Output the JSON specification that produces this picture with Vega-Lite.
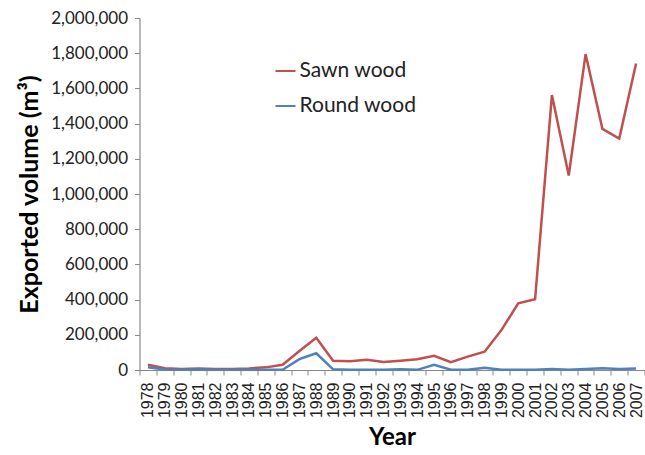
{
  "$schema": "https://vega.github.io/schema/vega-lite/v6.json",
  "width": 505,
  "height": 352,
  "autosize": "none",
  "padding": {"left": 139.5, "top": 18, "right": 0.5, "bottom": 85},
  "background": "white",
  "config": {"view": {"stroke": null}, "font": "Lato"},
  "data": {"values": [
    {"year": "1978", "type": "Sawn wood", "v": 30000},
    {"year": "1979", "type": "Sawn wood", "v": 10000},
    {"year": "1980", "type": "Sawn wood", "v": 6000},
    {"year": "1981", "type": "Sawn wood", "v": 9000},
    {"year": "1982", "type": "Sawn wood", "v": 5000},
    {"year": "1983", "type": "Sawn wood", "v": 6000},
    {"year": "1984", "type": "Sawn wood", "v": 9000},
    {"year": "1985", "type": "Sawn wood", "v": 15000},
    {"year": "1986", "type": "Sawn wood", "v": 30000},
    {"year": "1987", "type": "Sawn wood", "v": 108000},
    {"year": "1988", "type": "Sawn wood", "v": 183000},
    {"year": "1989", "type": "Sawn wood", "v": 52000},
    {"year": "1990", "type": "Sawn wood", "v": 50000},
    {"year": "1991", "type": "Sawn wood", "v": 58000},
    {"year": "1992", "type": "Sawn wood", "v": 45000},
    {"year": "1993", "type": "Sawn wood", "v": 53000},
    {"year": "1994", "type": "Sawn wood", "v": 61000},
    {"year": "1995", "type": "Sawn wood", "v": 81000},
    {"year": "1996", "type": "Sawn wood", "v": 44000},
    {"year": "1997", "type": "Sawn wood", "v": 76000},
    {"year": "1998", "type": "Sawn wood", "v": 104000},
    {"year": "1999", "type": "Sawn wood", "v": 227000},
    {"year": "2000", "type": "Sawn wood", "v": 379000},
    {"year": "2001", "type": "Sawn wood", "v": 402000},
    {"year": "2002", "type": "Sawn wood", "v": 1562000},
    {"year": "2003", "type": "Sawn wood", "v": 1105000},
    {"year": "2004", "type": "Sawn wood", "v": 1795000},
    {"year": "2005", "type": "Sawn wood", "v": 1370000},
    {"year": "2006", "type": "Sawn wood", "v": 1315000},
    {"year": "2007", "type": "Sawn wood", "v": 1742000},
    {"year": "1978", "type": "Round wood", "v": 15000},
    {"year": "1979", "type": "Round wood", "v": 3000},
    {"year": "1980", "type": "Round wood", "v": 1000},
    {"year": "1981", "type": "Round wood", "v": 3000},
    {"year": "1982", "type": "Round wood", "v": 2000},
    {"year": "1983", "type": "Round wood", "v": 1000},
    {"year": "1984", "type": "Round wood", "v": 2000},
    {"year": "1985", "type": "Round wood", "v": 2000},
    {"year": "1986", "type": "Round wood", "v": 1000},
    {"year": "1987", "type": "Round wood", "v": 62000},
    {"year": "1988", "type": "Round wood", "v": 95000},
    {"year": "1989", "type": "Round wood", "v": 4000},
    {"year": "1990", "type": "Round wood", "v": 1000},
    {"year": "1991", "type": "Round wood", "v": 1000},
    {"year": "1992", "type": "Round wood", "v": 1000},
    {"year": "1993", "type": "Round wood", "v": 4000},
    {"year": "1994", "type": "Round wood", "v": 1000},
    {"year": "1995", "type": "Round wood", "v": 30000},
    {"year": "1996", "type": "Round wood", "v": 2000},
    {"year": "1997", "type": "Round wood", "v": 2000},
    {"year": "1998", "type": "Round wood", "v": 13000},
    {"year": "1999", "type": "Round wood", "v": 2000},
    {"year": "2000", "type": "Round wood", "v": 2000},
    {"year": "2001", "type": "Round wood", "v": 2000},
    {"year": "2002", "type": "Round wood", "v": 5000},
    {"year": "2003", "type": "Round wood", "v": 2000},
    {"year": "2004", "type": "Round wood", "v": 6000},
    {"year": "2005", "type": "Round wood", "v": 10000},
    {"year": "2006", "type": "Round wood", "v": 6000},
    {"year": "2007", "type": "Round wood", "v": 9000}
  ]},
  "mark": {"type": "line", "strokeWidth": 2.5},
  "encoding": {
    "x": {
      "field": "year", "type": "ordinal",
      "scale": {"type": "band", "paddingInner": 0, "paddingOuter": 0},
      "bandPosition": 0.5,
      "axis": {
        "title": "Year", "titleFontSize": 24, "titleFontWeight": "bold", "titleColor": "#000",
        "titlePadding": 8,
        "labelAngle": -90, "labelFont": "Liberation Sans", "labelFontSize": 16, "labelColor": "#222", "labelPadding": 7,
        "labelAlign": "right", "labelBaseline": "middle",
        "tickBand": "extent", "tickSize": 5, "tickColor": "#888", "domainColor": "#888", "domainWidth": 1.2
      }
    },
    "y": {
      "field": "v", "type": "quantitative",
      "scale": {"domain": [0, 2000000], "nice": false},
      "axis": {
        "title": "Exported volume (m³)", "titleFontSize": 25, "titleFontWeight": "bold", "titleColor": "#000",
        "titlePadding": 8,
        "values": [0, 200000, 400000, 600000, 800000, 1000000, 1200000, 1400000, 1600000, 1800000, 2000000],
        "format": ",d", "labelFontSize": 17, "labelColor": "#222", "labelPadding": 7,
        "grid": false, "tickSize": 5, "tickColor": "#888", "domainColor": "#888", "domainWidth": 1.2
      }
    },
    "color": {
      "field": "type", "type": "nominal",
      "scale": {"domain": ["Sawn wood", "Round wood"], "range": ["#C0504D", "#4F81BD"]},
      "legend": {
        "title": null, "orient": "none", "legendX": 135, "legendY": 42,
        "symbolType": "stroke", "symbolSize": 400, "symbolStrokeWidth": 2,
        "labelFontSize": 21, "labelColor": "#222", "rowPadding": 14, "labelOffset": 3
      }
    }
  }
}
